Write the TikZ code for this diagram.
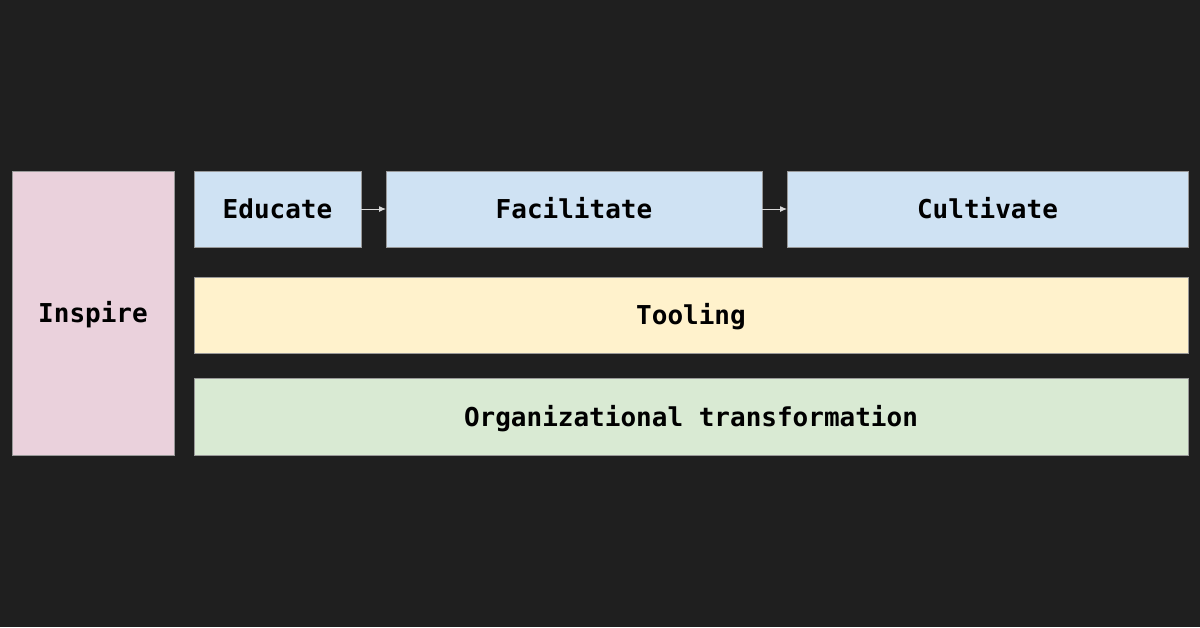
\documentclass[tikz,border=0pt]{standalone}
\usepackage{fontspec}
\setmonofont{DejaVu Sans Mono}
\usepackage{xcolor}
\usepackage{tikz}
\usetikzlibrary{positioning, arrows.meta}

\definecolor{bgdark}{HTML}{1F1F1F}
\definecolor{edublue}{HTML}{CFE2F3}
\definecolor{toolyellow}{HTML}{FFF2CC}
\definecolor{orggreen}{HTML}{D9EAD3}
\definecolor{inspink}{HTML}{EAD1DC}

\tikzset{
    stage/.style={draw=gray!80, line width=0.8pt, inner sep=0pt, outer sep=0pt,
        minimum height=76pt, text height=19pt, text depth=0pt,
        font=\ttfamily\bfseries\fontsize{26}{26}\selectfont},
    flow/.style={-{Latex[length=7pt, width=6pt]}, draw=white!85!black, line width=1pt}
}

\begin{document}
\begin{tikzpicture}[x=1pt, y=-1pt]
    % Nền tối
    \fill[bgdark] (0,0) rectangle (1200,627);
    \useasboundingbox (0,0) rectangle (1200,627);

    % Cột bên trái
    \node[stage, fill=inspink, minimum width=162pt, minimum height=284pt] (inspire) at (93,313) {Inspire};

    % Hàng trên: ba bước
    \node[stage, fill=edublue, minimum width=167pt] (educate) at (277.5,209) {Educate};
    \node[stage, fill=edublue, minimum width=376pt] (facilitate) at (574,209) {Facilitate};
    \node[stage, fill=edublue, minimum width=401pt] (cultivate) at (987.5,209) {Cultivate};

    % Hai dải ngang
    \node[stage, fill=toolyellow, minimum width=994pt] (tooling) at (691,315) {Tooling};
    \node[stage, fill=orggreen, minimum width=994pt, minimum height=77pt] (orgtrans) at (691,416.5) {Organizational transformation};

    % Mũi tên nối các bước
    \draw[flow] (educate) -- (facilitate);
    \draw[flow] (facilitate) -- (cultivate);
\end{tikzpicture}
\end{document}
